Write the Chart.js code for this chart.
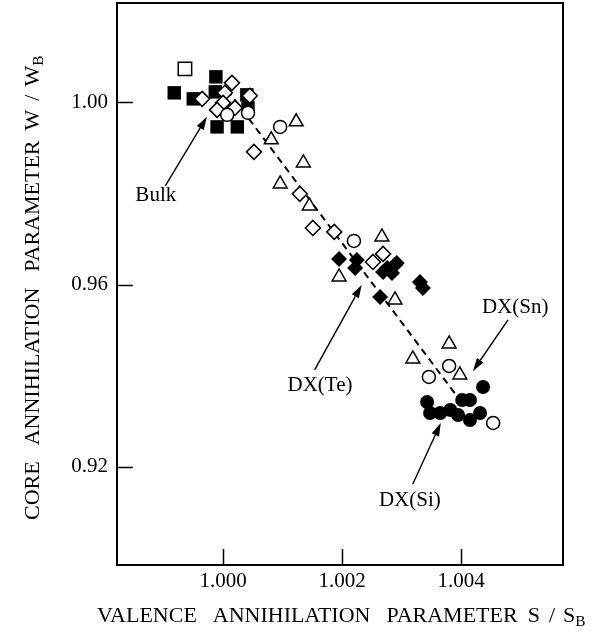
<!DOCTYPE html>
<html><head><meta charset="utf-8">
<script src="https://cdn.jsdelivr.net/npm/chart.js@4"></script>
<style>html,body{margin:0;padding:0;background:#fff}#wrap{width:603px;height:640px}</style>
</head><body><div id="wrap"><canvas id="c" width="603" height="640"></canvas></div>
<script>
// ---- data ----
const xTickValues = [1.000, 1.002, 1.004];
const yTickValues = [0.92, 0.96, 1.00];
const filledSquares = [[0.99918,1.00209],[0.99950,1.00077],[0.99988,1.00560],[0.99987,1.00230],[0.99990,0.99462],[1.00024,0.99462],[1.00042,0.99879],[1.00040,1.00165]];
const openSquares = [[0.99936,1.00735]];
const openDiamonds = [[1.00015,1.00428],[0.99965,1.00077],[1.00003,1.00209],[1.00045,1.00143],[1.00000,0.99989],[0.99990,0.99835],[1.00020,0.99879],[1.00052,0.98914],[1.00129,0.97992],[1.00151,0.97245],[1.00187,0.97158],[1.00269,0.96675],[1.00252,0.96499]];
const openCircles = [[1.00007,0.99726],[1.00042,0.99770],[1.00096,0.99462],[1.00220,0.96960],[1.00380,0.94216],[1.00346,0.93975],[1.00454,0.92965]];
const openTriangles = [[1.00123,0.99572],[1.00081,0.99177],[1.00135,0.98672],[1.00096,0.98211],[1.00145,0.97728],[1.00267,0.97048],[1.00195,0.96170],[1.00289,0.95665],[1.00380,0.94700],[1.00319,0.94371],[1.00398,0.94019]];
const filledDiamonds = [[1.00195,0.96565],[1.00225,0.96543],[1.00222,0.96367],[1.00264,0.95731],[1.00276,0.96367],[1.00289,0.96433],[1.00284,0.96258],[1.00292,0.96477],[1.00331,0.96060],[1.00336,0.95928],[1.00269,0.96280]];
const filledCircles = [[1.00437,0.93756],[1.00343,0.93426],[1.00348,0.93185],[1.00382,0.93251],[1.00395,0.93141],[1.00402,0.93470],[1.00415,0.93470],[1.00415,0.93031],[1.00432,0.93185],[1.00365,0.93185]];
const trendLine = [[1.00007,1.00274],[1.00398,0.93470]];
const labelNames = ['Bulk','DX(Te)','DX(Sn)','DX(Si)'];
const labelAt = [[0.99887,0.97948],[1.00163,0.93778],[1.00491,0.95489],[1.00314,0.91275]];
const arrowFrom = [[0.99903,0.98167],[1.00154,0.94130],[1.00479,0.95226],[1.00319,0.91626]];
const arrowTo = [[0.99973,0.99682],[1.00233,0.95994],[1.00420,0.94107],[1.00366,0.92965]];

const FONT = "'Liberation Serif', 'Times New Roman', serif";
const mk = arr => arr.map(([x, y]) => ({x, y}));

function drawPieces(ctx, pieces, x0, y0, angle) {
  const sx = 1.1;
  ctx.save();
  ctx.translate(x0, y0); ctx.rotate(angle); ctx.scale(sx, 1);
  ctx.fillStyle = '#000'; ctx.textBaseline = 'alphabetic'; ctx.textAlign = 'left';
  let x = 0;
  for (const p of pieces) {
    if (p.gap) { x += p.gap / sx; continue; }
    ctx.font = (p.sub ? '14px ' : '20px ') + FONT;
    ctx.fillText(p.t, x, p.sub ? 4 : 0);
    x += ctx.measureText(p.t).width;
  }
  ctx.restore();
}

function arrow(ctx, x1, y1, x2, y2) {
  const ang = Math.atan2(y2 - y1, x2 - x1), L = 13, W = 4;
  const bx = x2 - L * Math.cos(ang), by = y2 - L * Math.sin(ang);
  ctx.beginPath(); ctx.moveTo(x1, y1); ctx.lineTo(bx, by); ctx.stroke();
  ctx.beginPath(); ctx.moveTo(x2, y2);
  ctx.lineTo(bx + W * Math.sin(ang), by - W * Math.cos(ang));
  ctx.lineTo(bx - W * Math.sin(ang), by + W * Math.cos(ang));
  ctx.closePath(); ctx.fill();
}

const deco = {
  id: 'deco',
  afterDraw(chart) {
    const {ctx, chartArea: a} = chart;
    const xs = chart.scales.x, ys = chart.scales.y;
    ctx.save();
    ctx.strokeStyle = '#000'; ctx.fillStyle = '#000';
    ctx.lineWidth = 2;
    ctx.strokeRect(a.left, a.top, a.right - a.left, a.bottom - a.top);
    ctx.lineWidth = 1.5;
    xTickValues.forEach(v => { const p = Math.round(xs.getPixelForValue(v)) + 0.5; ctx.beginPath(); ctx.moveTo(p, a.bottom); ctx.lineTo(p, a.bottom - 16); ctx.stroke(); });
    yTickValues.forEach(v => { const p = Math.round(ys.getPixelForValue(v)) + 0.5; ctx.beginPath(); ctx.moveTo(a.left, p); ctx.lineTo(a.left + 16, p); ctx.stroke(); });
    ctx.lineWidth = 1.4;
    for (let i = 0; i < labelNames.length; i++) {
      arrow(ctx, xs.getPixelForValue(arrowFrom[i][0]), ys.getPixelForValue(arrowFrom[i][1]),
                 xs.getPixelForValue(arrowTo[i][0]), ys.getPixelForValue(arrowTo[i][1]));
      ctx.font = '21px ' + FONT; ctx.textAlign = 'center'; ctx.textBaseline = 'middle';
      ctx.fillText(labelNames[i], xs.getPixelForValue(labelAt[i][0]), ys.getPixelForValue(labelAt[i][1]));
    }
    drawPieces(ctx, [{t:'VALENCE'},{gap:16},{t:'ANNIHILATION'},{gap:16},{t:'PARAMETER'},{gap:10},{t:'S'},{gap:9},{t:'/'},{gap:8},{t:'S'},{t:'B',sub:true}], 97, 622, 0);
    drawPieces(ctx, [{t:'CORE'},{gap:16},{t:'ANNIHILATION'},{gap:16},{t:'PARAMETER'},{gap:10},{t:'W'},{gap:9},{t:'/'},{gap:8},{t:'W'},{t:'B',sub:true}], 39, 520, -Math.PI / 2);
    ctx.restore();
  }
};

const pt = (data, style, r, filled, order) => ({
  data: mk(data), pointStyle: style, pointRadius: r, pointHoverRadius: r,
  backgroundColor: filled ? '#000' : '#fff', borderColor: '#000',
  borderWidth: filled ? 0 : 1.5, order
});

new Chart(document.getElementById('c'), {
  type: 'scatter',
  data: { datasets: [
    { type: 'line', data: mk(trendLine), showLine: true, fill: false, borderColor: '#000', borderWidth: 2, borderDash: [7, 5], pointRadius: 0, order: 10 },
    pt(filledSquares, 'rect', 9.5, true, 9),
    pt(openSquares, 'rect', 9.5, false, 8),
    pt(openDiamonds, 'rectRot', 7.5, false, 7),
    pt(openCircles, 'circle', 6.5, false, 6),
    pt(openTriangles, 'triangle', 8, false, 5),
    pt(filledDiamonds, 'rectRot', 8, true, 4),
    pt(filledCircles, 'circle', 7, true, 3)
  ]},
  options: {
    responsive: false, animation: false, devicePixelRatio: 1,
    layout: { autoPadding: false, padding: { top: 3, right: 40, left: 0, bottom: 0 } },
    plugins: { legend: { display: false }, tooltip: { enabled: false } },
    scales: {
      x: {
        type: 'linear', min: 0.998218, max: 1.005714,
        afterBuildTicks: s => { s.ticks = xTickValues.map(v => ({value: v})); },
        afterFit: s => { s.height = 75; s.paddingLeft = 0; s.paddingRight = 0; },
        grid: { display: false, drawTicks: false }, border: { display: false },
        ticks: { color: '#000', padding: 4, font: { family: FONT, size: 21 }, callback: v => Number(v).toFixed(3) }
      },
      y: {
        type: 'linear', min: 0.89849, max: 1.0218,
        afterBuildTicks: s => { s.ticks = yTickValues.map(v => ({value: v})); },
        afterFit: s => { s.width = 117; s.paddingTop = 0; s.paddingBottom = 0; },
        grid: { display: false, drawTicks: false }, border: { display: false },
        ticks: { color: '#000', padding: 9, font: { family: FONT, size: 21 }, callback: v => Number(v).toFixed(2) }
      }
    }
  },
  plugins: [deco]
});
</script>
</body></html>
